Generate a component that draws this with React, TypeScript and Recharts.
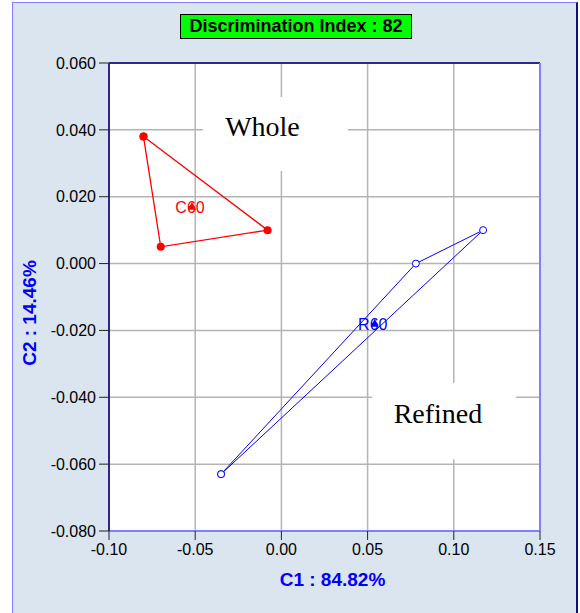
import React from 'react';
import {
  ScatterChart, Scatter, XAxis, YAxis, CartesianGrid, ReferenceArea, ReferenceLine, Label
} from 'recharts';

// Score plot values
const xTicks = [-0.1, -0.05, 0, 0.05, 0.1, 0.15];
const yTicks = [0.06, 0.04, 0.02, 0, -0.02, -0.04, -0.06, -0.08];

const wholeX = [-0.080, -0.070, -0.008];
const wholeY = [0.038, 0.005, 0.010];
const wholeCentroid = { x: -0.053, y: 0.017, name: 'C60' };

const refinedX = [-0.035, 0.078, 0.117];
const refinedY = [-0.063, 0.000, 0.010];
const refinedCentroid = { x: 0.053, y: -0.018, name: 'R60' };

const SANS = '"Liberation Sans", Arial, sans-serif';
const SERIF = '"Liberation Serif", "Times New Roman", serif';

const closed = (xs: number[], ys: number[]) => {
  const pts = xs.map((x, i) => ({ x, y: ys[i] }));
  return [...pts, pts[0]];
};

const wholeData = closed(wholeX, wholeY);
const refinedData = closed(refinedX, refinedY);

const boxText = (text: string, dx: number, dy: number) => (props: any) => {
  const { x, y, width, height } = props.viewBox;
  return (
    <text x={x + width / 2 + dx} y={y + height / 2 + dy} textAnchor="middle"
      fontFamily={SERIF} fontSize={28} fill="#000">{text}</text>
  );
};

const centroidShape = (color: string) => (props: any) => {
  const { cx, cy, payload } = props;
  return (
    <g>
      <text x={cx} y={cy + 1} textAnchor="middle" dominantBaseline="central"
        fontFamily={SANS} fontSize={16} fill={color}>{payload.name}</text>
      <path d={`M${cx + 2},${cy - 5} L${cx + 6},${cy + 3} L${cx - 2},${cy + 3} Z`} fill={color} />
    </g>
  );
};

export default function App() {
  return (
    <div style={{ position: 'absolute', left: 0, top: 0, width: 580, height: 613, background: '#fff', overflow: 'hidden' }}>
      <div style={{
        position: 'absolute', left: 12, top: 2, width: 563, height: 640,
        background: '#dbe5f0', borderLeft: '1px solid #8080ff', borderTop: '1px solid #8080ff',
        borderRight: '2px solid #10107a'
      }} />
      <div style={{
        position: 'absolute', left: 180, top: 14, width: 232, height: 25,
        background: '#00ff00', border: '1px solid #000', boxSizing: 'border-box',
        fontFamily: SANS, fontWeight: 'bold', fontSize: 18, lineHeight: '23px',
        textAlign: 'center', color: '#000'
      }}>Discrimination Index : 82</div>
      <div style={{ position: 'absolute', left: 0, top: 0 }}>
        <ScatterChart width={580} height={613} margin={{ top: 63, right: 40, bottom: 32, left: 9 }}>
          <CartesianGrid fill="#ffffff" fillOpacity={1} stroke="#b4b4b4" strokeWidth={1.5}
            horizontalValues={yTicks} verticalValues={xTicks} />
          <XAxis type="number" dataKey="x" domain={[-0.1, 0.15]} ticks={xTicks} height={50}
            allowDataOverflow tickFormatter={(v: number) => v.toFixed(2)}
            axisLine={{ stroke: '#8080ff', strokeWidth: 2 }} tickLine={{ stroke: '#222' }}
            tickSize={9} tickMargin={4} tick={{ fill: '#000', fontSize: 16, fontFamily: SANS }}>
            <Label content={(p: any) => {
              const { x, y, width } = p.viewBox;
              return (
                <text x={x + width / 2 + 8} y={y + 48} textAnchor="middle" dominantBaseline="central"
                  fontFamily={SANS} fontWeight="bold" fontSize={19} fill="#0000ff">C1 : 84.82%</text>
              );
            }} />
          </XAxis>
          <YAxis type="number" dataKey="y" domain={[-0.08, 0.06]} ticks={yTicks} width={100}
            allowDataOverflow tickFormatter={(v: number) => v.toFixed(3)}
            axisLine={{ stroke: '#2a2a8a', strokeWidth: 2 }} tickLine={{ stroke: '#222' }}
            tickSize={10} tickMargin={3} tick={{ fill: '#000', fontSize: 16, fontFamily: SANS }}>
            <Label content={(p: any) => {
              const { y, height } = p.viewBox;
              const cx = 29;
              const cy = y + height / 2 + 16;
              return (
                <text x={cx} y={cy} textAnchor="middle" dominantBaseline="central"
                  transform={`rotate(-90 ${cx} ${cy})`}
                  fontFamily={SANS} fontWeight="bold" fontSize={19} fill="#0000ff">C2 : 14.46%</text>
              );
            }} />
          </YAxis>
          <ReferenceLine y={0.06} stroke="#2a2a8a" strokeWidth={2} />
          <ReferenceLine x={0.15} stroke="#8080ff" strokeWidth={2} />
          <ReferenceArea x1={-0.0455} x2={0.0386} y1={0.0498} y2={0.0277}
            fill="#ffffff" fillOpacity={1} stroke="none" label={boxText('Whole', -13, 2)} />
          <ReferenceArea x1={0.0526} x2={0.136} y1={-0.0357} y2={-0.0585}
            fill="#ffffff" fillOpacity={1} stroke="none" label={boxText('Refined', -6, 2)} />
          <Scatter data={wholeData} isAnimationActive={false}
            line={{ stroke: '#ff0000', strokeWidth: 1.3 }} lineType="joint"
            shape={(p: any) => <circle cx={p.cx} cy={p.cy} r={4} fill="#ff0000" />} />
          <Scatter data={refinedData} isAnimationActive={false}
            line={{ stroke: '#0000ff', strokeWidth: 1 }} lineType="joint"
            shape={(p: any) => <circle cx={p.cx} cy={p.cy} r={3.5} fill="#ffffff" stroke="#0000ff" strokeWidth={1} />} />
          <Scatter data={[wholeCentroid]} isAnimationActive={false} shape={centroidShape('#ff0000')} />
          <Scatter data={[refinedCentroid]} isAnimationActive={false} shape={centroidShape('#0000ff')} />
        </ScatterChart>
      </div>
    </div>
  );
}
